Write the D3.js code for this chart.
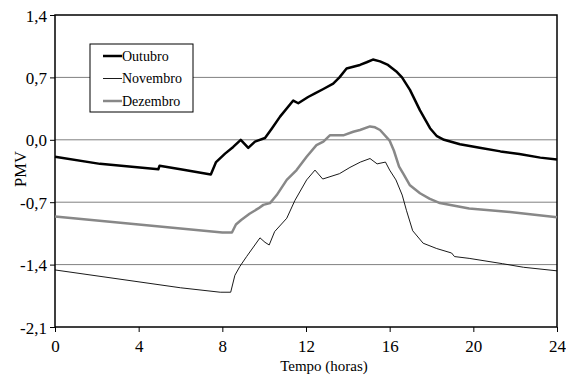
<!DOCTYPE html>
<html>
<head>
<meta charset="utf-8">
<script src="https://cdn.jsdelivr.net/npm/d3@7"></script>
<style>
    body { margin: 0; background: #fff; }
    svg text { font-family: "Liberation Serif", "Times New Roman", serif; fill: #000; }
</style>
</head>
<body>
<div id="chart"></div>
<script>

// Series data (hours, PMV)
const outubroHours = [0, 2.15, 4.94, 5.0, 6.0, 7.45, 7.7, 8.13, 8.52, 8.88, 9.24, 9.56, 10.04, 10.36, 10.76, 11.39, 11.63, 12.1, 12.43, 12.83, 13.3, 13.6, 13.94, 14.26, 14.58, 14.9, 15.2, 15.54, 15.92, 16.35, 16.59, 16.97, 17.45, 17.93, 18.26, 18.6, 19.36, 20.3, 21.3, 22.2, 23.2, 24];
const outubroPMV = [-0.19, -0.27, -0.33, -0.29, -0.33, -0.39, -0.25, -0.155, -0.08, 0.0, -0.09, -0.02, 0.02, 0.125, 0.26, 0.44, 0.41, 0.48, 0.52, 0.57, 0.63, 0.70, 0.80, 0.82, 0.84, 0.87, 0.90, 0.88, 0.84, 0.76, 0.70, 0.56, 0.33, 0.13, 0.04, 0.0, -0.05, -0.09, -0.13, -0.16, -0.20, -0.22];

const novembroHours = [0, 6.0, 7.9, 8.4, 8.6, 8.84, 9.16, 9.8, 10.04, 10.24, 10.5, 11.08, 11.47, 12.03, 12.43, 12.8, 13.6, 14.1, 14.6, 15.06, 15.4, 15.8, 16.0, 16.3, 16.6, 16.8, 17.1, 17.6, 18.25, 18.96, 19.1, 19.8, 21.4, 22.4, 24];
const novembroPMV = [-1.46, -1.66, -1.71, -1.71, -1.52, -1.42, -1.31, -1.10, -1.15, -1.18, -1.03, -0.88, -0.68, -0.45, -0.34, -0.44, -0.38, -0.31, -0.25, -0.21, -0.27, -0.25, -0.34, -0.45, -0.62, -0.79, -1.02, -1.16, -1.22, -1.27, -1.31, -1.33, -1.39, -1.43, -1.47];

const dezembroHours = [0, 8.0, 8.46, 8.65, 8.9, 9.3, 9.72, 9.96, 10.28, 10.6, 11.08, 11.55, 12.03, 12.5, 12.83, 13.14, 13.78, 14.26, 14.58, 15.06, 15.3, 15.54, 16.0, 16.2, 16.45, 16.65, 16.97, 17.45, 17.9, 18.4, 19.8, 21.75, 24];
const dezembroPMV = [-0.86, -1.04, -1.04, -0.95, -0.90, -0.83, -0.77, -0.73, -0.71, -0.62, -0.45, -0.34, -0.19, -0.06, -0.02, 0.05, 0.05, 0.09, 0.11, 0.15, 0.14, 0.11, -0.01, -0.12, -0.30, -0.38, -0.51, -0.60, -0.66, -0.71, -0.77, -0.81, -0.87];

// Axis ticks
const xTicks = [0, 4, 8, 12, 16, 20, 24];
const yTicks = [-2.1, -1.4, -0.7, 0.0, 0.7, 1.4];
const gridValues = [-1.4, -0.7, 0.0, 0.7];

const seriesNames = ["Outubro", "Novembro", "Dezembro"];

function zip(hours, values) {
    return hours.map((h, i) => ({ hour: h, pmv: values[i] }));
}

const series = [
    { name: seriesNames[0], points: zip(outubroHours, outubroPMV), color: "#000", width: 2.5 },
    { name: seriesNames[1], points: zip(novembroHours, novembroPMV), color: "#000", width: 0.9 },
    { name: seriesNames[2], points: zip(dezembroHours, dezembroPMV), color: "#888", width: 2.5 }
];

const width = 566;
const height = 379;
const margin = { left: 55, right: 9, top: 15, bottom: 52 };

const svg = d3.select("#chart").append("svg")
    .attr("width", width)
    .attr("height", height);

// Scales
let xScale = d3.scaleLinear()
    .domain([0, 24])
    .range([margin.left, width - margin.right]);
let yScale = d3.scaleLinear()
    .domain([-2.1, 1.4])
    .range([height - margin.bottom, margin.top]);

// Horizontal gridlines
svg.append("g")
    .selectAll("line")
    .data(gridValues)
    .enter().append("line")
        .attr("x1", xScale(0))
        .attr("x2", xScale(24))
        .attr("y1", d => yScale(d))
        .attr("y2", d => yScale(d))
        .attr("stroke", "#808080")
        .attr("stroke-width", 1);

// Axes
const fmt = d => d.toFixed(1).replace(".", ",");

let yAxis = svg.append("g")
    .attr("transform", "translate(" + margin.left + ",0)")
    .call(d3.axisLeft(yScale).tickValues(yTicks).tickFormat(fmt).tickSize(5).tickSizeOuter(0));
let xAxis = svg.append("g")
    .attr("transform", "translate(0," + (height - margin.bottom) + ")")
    .call(d3.axisBottom(xScale).tickValues(xTicks).tickSize(5).tickSizeOuter(0));

[yAxis, xAxis].forEach(axis => {
    axis.select(".domain").remove();
    axis.attr("font-size", null).attr("font-family", null);
    axis.selectAll(".tick line").attr("stroke", "#000");
    axis.selectAll("text")
        .style("font-family", "'Liberation Serif', 'Times New Roman', serif")
        .style("font-size", "17px");
});
yAxis.selectAll("text").attr("x", -8).attr("dy", "0.36em");
xAxis.selectAll("text").attr("y", 13);

// Plot frame
svg.append("rect")
    .attr("x", xScale(0))
    .attr("y", yScale(1.4))
    .attr("width", xScale(24) - xScale(0))
    .attr("height", yScale(-2.1) - yScale(1.4))
    .attr("fill", "none")
    .attr("stroke", "#000")
    .attr("stroke-width", 1.5);

// Lines
let line = d3.line()
    .x(d => xScale(d.hour))
    .y(d => yScale(d.pmv));

svg.append("g")
    .selectAll("path")
    .data(series)
    .enter().append("path")
        .attr("d", d => line(d.points))
        .attr("fill", "none")
        .attr("stroke", d => d.color)
        .attr("stroke-width", d => d.width)
        .attr("stroke-linejoin", "round");

// Axis titles
svg.append("text")
    .attr("x", 324)
    .attr("y", 371)
    .attr("text-anchor", "middle")
    .style("font-size", "15px")
    .text("Tempo (horas)");

svg.append("text")
    .attr("transform", "translate(26,169) rotate(-90)")
    .attr("text-anchor", "middle")
    .style("font-size", "16.5px")
    .text("PMV");

// Legend
let legend = svg.append("g").attr("transform", "translate(90,44)");
legend.append("rect")
    .attr("width", 103)
    .attr("height", 68)
    .attr("fill", "#fff")
    .attr("stroke", "#000")
    .attr("stroke-width", 1);

let items = legend.selectAll("g.item")
    .data(series)
    .enter().append("g")
        .attr("class", "item")
        .attr("transform", (d, i) => "translate(0," + (12 + i * 22.5) + ")");
items.append("line")
    .attr("x1", 13)
    .attr("x2", 32)
    .attr("stroke", d => d.color)
    .attr("stroke-width", d => d.width);
items.append("text")
    .attr("x", 32)
    .attr("dy", "0.35em")
    .style("font-size", "14px")
    .text(d => d.name);

</script>
</body>
</html>
